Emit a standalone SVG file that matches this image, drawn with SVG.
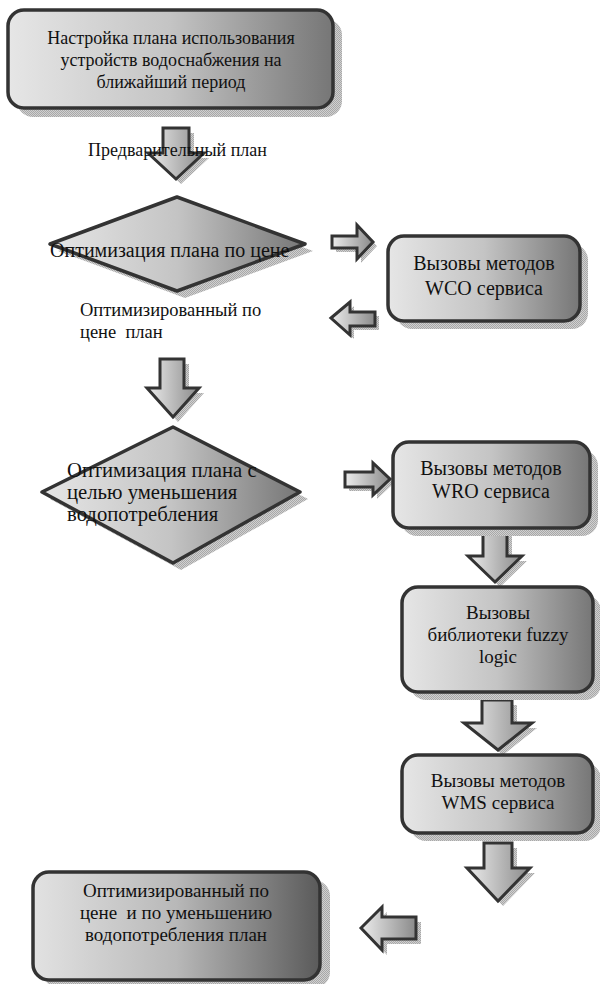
<svg xmlns="http://www.w3.org/2000/svg" width="600" height="984" viewBox="0 0 600 984">
<defs>
<linearGradient id="gBox" x1="0" y1="0" x2="1" y2="0">
<stop offset="0" stop-color="#e6e6e6"/><stop offset="0.5" stop-color="#c4c4c4"/><stop offset="1" stop-color="#767676"/>
</linearGradient>
<linearGradient id="gDark" x1="0" y1="0" x2="1" y2="0">
<stop offset="0" stop-color="#e2e2e2"/><stop offset="0.5" stop-color="#b8b8b8"/><stop offset="1" stop-color="#5a5a5a"/>
</linearGradient>
<linearGradient id="gArrow" x1="0" y1="0" x2="1" y2="0">
<stop offset="0" stop-color="#ececec"/><stop offset="1" stop-color="#8a8a8a"/>
</linearGradient>
<pattern id="dots" width="2" height="2" patternUnits="userSpaceOnUse">
<rect width="2" height="2" fill="#d0d0d0"/><rect width="1" height="1" fill="#a8a8a8"/><rect x="1" y="1" width="1" height="1" fill="#a8a8a8"/>
</pattern>
</defs>
<style>
.shape{fill:url(#gBox);stroke:#333;stroke-width:3.5;stroke-linejoin:round}
.dark{fill:url(#gDark)}
.sh{fill:url(#dots);stroke:none}
.arr{fill:url(#gArrow);stroke:#333;stroke-width:3;stroke-linejoin:miter}
.t{font-family:"Liberation Serif","Times New Roman",serif;font-size:18px;fill:#111;white-space:pre}
.c{text-anchor:middle}
.big{font-size:19px}
.b20{font-size:20px}
.b21{font-size:20.7px}
</style>

<g id="connectors">
<g id="a1">
<path class="sh" d="M168,133 H194 V158 H209 L181,184 L153,158 H168 Z"/>
<path class="arr" d="M163,128 H189 V153 H204 L176,179 L148,153 H163 Z"/>
</g>
<g id="a2">
<path class="sh" d="M336,240 H361 V229 L377,246 L361,263 V252 H336 Z"/>
<path class="arr" d="M332,236 H357 V225 L373,242 L357,259 V248 H332 Z"/>
</g>
<g id="a3">
<path class="sh" d="M335,322 L354,306 V316 H379 V330 H354 V339 Z"/>
<path class="arr" d="M331,318 L350,302 V312 H375 V326 H350 V335 Z"/>
</g>
<g id="a4">
<path class="sh" d="M165,364 H189 V393 H204 L178,422 L152,393 H165 Z"/>
<path class="arr" d="M160,359 H184 V388 H199 L173,417 L147,388 H160 Z"/>
</g>
<g id="a5">
<path class="sh" d="M349,476 H377 V467 L394,483 L377,499 V491 H349 Z"/>
<path class="arr" d="M345,472 H373 V463 L390,479 L373,495 V487 H345 Z"/>
</g>
<g id="a6">
<path class="sh" d="M488,535 H512 V561 H527 L500,587 L473,561 H488 Z"/>
<path class="arr" d="M483,530 H507 V556 H522 L495,582 L468,556 H483 Z"/>
</g>
<g id="a7">
<path class="sh" d="M487,705 H517 V728 H537 L503,755 L469,728 H487 Z"/>
<path class="arr" d="M482,700 H512 V723 H532 L498,750 L464,723 H482 Z"/>
</g>
<g id="a8">
<path class="sh" d="M489,848 H517 V873 H535 L503,906 L472,873 H489 Z"/>
<path class="arr" d="M484,843 H512 V868 H530 L498,901 L467,868 H484 Z"/>
</g>
<g id="a9">
<path class="sh" d="M366,933 L387,912 V922 H421 V944 H387 V955 Z"/>
<path class="arr" d="M361,928 L382,907 V917 H416 V939 H382 V950 Z"/>
</g>
</g>

<g id="n1">
<rect class="sh" x="17" y="19" width="325" height="98" rx="16"/>
<rect class="shape" x="8" y="10" width="325" height="98" rx="16"/>
<text class="t c" x="171" y="44">Настройка плана использования</text>
<text class="t c" x="171" y="66">устройств водоснабжения на</text>
<text class="t c" x="171" y="88">ближайший период</text>
</g>

<text id="l1" class="t" x="88" y="156">Предварительный план</text>

<g id="n2">
<path class="sh" d="M58,251 L185,204 L313,251 L185,298 Z"/>
<path class="shape" d="M50,244 L177,197 L305,244 L177,291 Z"/>
<text class="t b20" x="50" y="257">Оптимизация плана по цене</text>
</g>

<g id="n3">
<rect class="sh" x="396" y="244" width="192" height="85" rx="16"/>
<rect class="shape" x="388" y="236" width="192" height="85" rx="16"/>
<text class="t b20 c" x="484" y="270">Вызовы методов</text>
<text class="t b20 c" x="484" y="295">WCO сервиса</text>
</g>

<g id="l2">
<text class="t" style="font-size:18.5px" x="80" y="316">Оптимизированный по</text>
<text class="t" style="font-size:18.5px" x="80" y="338">цене  план</text>
</g>

<g id="n4">
<path class="sh" d="M50,499 L181,434 L308,499 L181,570 Z"/>
<path class="shape" d="M42,492 L173,427 L300,492 L173,563 Z"/>
<text class="t b21" x="67" y="477">Оптимизация плана с</text>
<text class="t b21" x="67" y="499">целью уменьшения</text>
<text class="t b21" x="67" y="521">водопотребления</text>
</g>

<g id="n5">
<rect class="sh" x="401" y="450" width="197" height="86" rx="16"/>
<rect class="shape" x="393" y="442" width="197" height="86" rx="16"/>
<text class="t b20 c" x="491" y="475">Вызовы методов</text>
<text class="t b20 c" x="491" y="498">WRO сервиса</text>
</g>

<g id="n6">
<rect class="sh" x="410" y="595" width="191" height="105" rx="16"/>
<rect class="shape" x="402" y="587" width="191" height="105" rx="16"/>
<text class="t big c" x="498" y="619">Вызовы</text>
<text class="t big c" x="498" y="641">библиотеки fuzzy</text>
<text class="t big c" x="498" y="663">logic</text>
</g>

<g id="n7">
<rect class="sh" x="410" y="763" width="191" height="78" rx="16"/>
<rect class="shape" x="402" y="755" width="191" height="78" rx="16"/>
<text class="t big c" x="498" y="787">Вызовы методов</text>
<text class="t big c" x="498" y="809">WMS сервиса</text>
</g>

<g id="n8">
<rect class="sh" x="43" y="880" width="287" height="108" rx="16"/>
<rect class="shape dark" x="33" y="872" width="287" height="108" rx="16"/>
<text class="t big c" x="176" y="897">Оптимизированный по</text>
<text class="t big c" x="176" y="919">цене  и по уменьшению</text>
<text class="t big c" x="176" y="941">водопотребления план</text>
</g>
</svg>
